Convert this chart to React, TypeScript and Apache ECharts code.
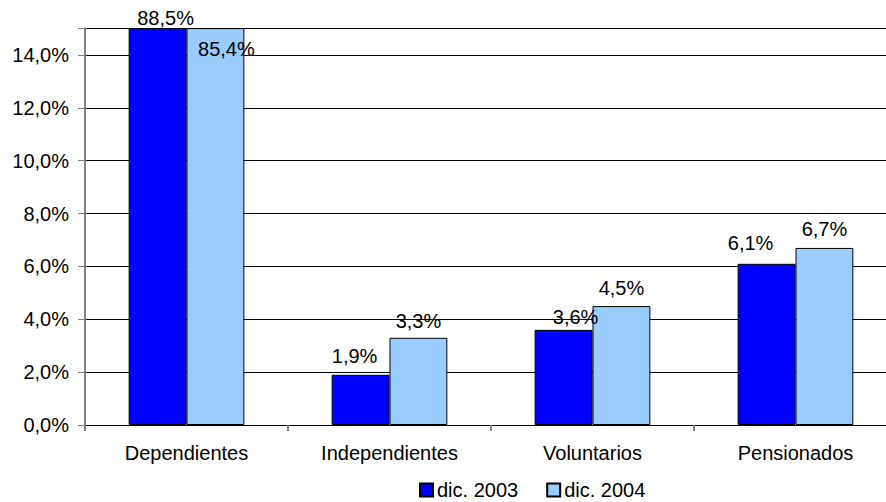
import React, { useEffect, useRef } from "react";
import * as echarts from "echarts";

const categories = ["Dependientes", "Independientes", "Voluntarios", "Pensionados"];
const series2003 = [88.5, 1.9, 3.6, 6.1];
const series2004 = [85.4, 3.3, 4.5, 6.7];
const seriesNames = ["dic. 2003", "dic. 2004"];
const yTicks = [0, 2, 4, 6, 8, 10, 12, 14];

const fmt = (v: number) => v.toFixed(1).replace(".", ",") + "%";
const FONT = "Liberation Sans, Arial, sans-serif";

export default function App() {
  const ref = useRef<HTMLDivElement>(null);
  useEffect(() => {
    if (!ref.current) return;
    const chart = echarts.init(ref.current, undefined, { renderer: "svg" });
    const labelBase = {
      show: true,
      position: "top" as const,
      distance: 8,
      color: "#000",
      fontSize: 20,
      fontFamily: FONT,
      formatter: (p: any) => fmt(p.value),
    };
    chart.setOption({
      animation: false,
      backgroundColor: "#fff",
      textStyle: { fontFamily: FONT },
      grid: { left: 85, top: 28.6, width: 812, height: 396.4, containLabel: false },
      legend: {
        left: 419,
        top: 480,
        padding: 0,
        itemWidth: 13,
        itemHeight: 13,
        itemGap: 28,
        icon: "rect",
        textStyle: { fontSize: 20, lineHeight: 20, color: "#000", fontFamily: FONT, padding: [0, 0, 0, -1] },
        data: seriesNames,
      },
      xAxis: {
        type: "category",
        data: categories,
        axisLine: { lineStyle: { color: "#000", width: 1 } },
        axisTick: { show: true, length: 6, lineStyle: { color: "#808080", width: 2 } },
        axisLabel: { color: "#000", fontSize: 20, margin: 18, fontFamily: FONT },
      },
      yAxis: {
        type: "value",
        min: 0,
        max: 15,
        interval: 2,
        axisLine: { show: true, lineStyle: { color: "#808080", width: 2 } },
        axisTick: { show: true, length: 7, lineStyle: { color: "#808080" } },
        axisLabel: {
          color: "#000",
          fontSize: 20,
          margin: 16,
          fontFamily: FONT,
          formatter: (v: number) => (yTicks.includes(v) ? fmt(v) : ""),
        },
        splitLine: { show: true, lineStyle: { color: "#000", width: 1 } },
      },
      series: [
        {
          name: seriesNames[0],
          type: "bar",
          clip: true,
          barGap: "0%",
          barCategoryGap: "43%",
          itemStyle: { color: "#0000FF", borderColor: "#000", borderWidth: 1 },
          label: { ...labelBase },
          data: series2003.map((v, i) =>
            i === 0 ? { value: v, label: { distance: 0, offset: [8, 0] } } :
            i === 1 ? { value: v, label: { distance: 9, offset: [-6, 0] } } :
            i === 2 ? { value: v, label: { distance: 3, offset: [12, 0] } } :
            { value: v, label: { distance: 11, offset: [-16, 0] } }
          ),
        },
        {
          name: seriesNames[1],
          type: "bar",
          clip: true,
          itemStyle: { color: "#99CCFF", borderColor: "#000", borderWidth: 1 },
          label: { ...labelBase },
          data: series2004.map((v, i) =>
            i === 0
              ? { value: v, label: { position: "insideTop", distance: 11, offset: [11, 0] } }
              : i === 1 ? { value: v, label: { distance: 7 } }
              : i === 2 ? { value: v, label: { distance: 8.5 } }
              : { value: v, label: { distance: 9 } }
          ),
        },
      ],
    });
    return () => chart.dispose();
  }, []);
  return (
    <div style={{ position: "fixed", left: 0, top: 0, width: 886, height: 502, overflow: "hidden", background: "#fff" }}>
      <div ref={ref} style={{ width: 910, height: 502 }} />
    </div>
  );
}
